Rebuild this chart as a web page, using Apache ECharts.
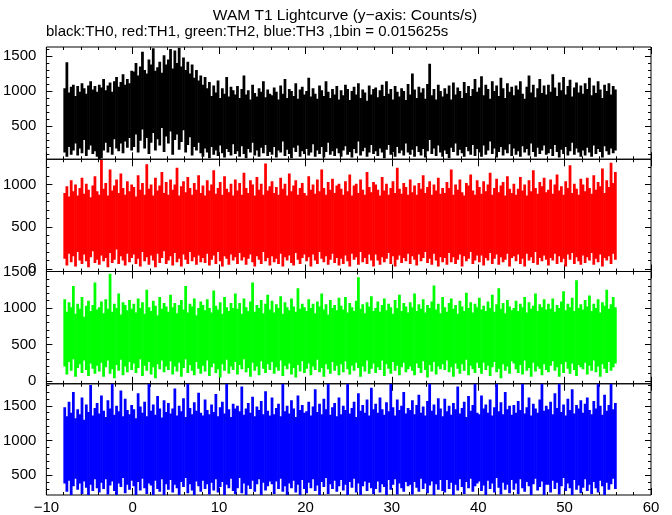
<!DOCTYPE html>
<html><head><meta charset="utf-8">
<script src="https://cdn.jsdelivr.net/npm/echarts@6/dist/echarts.min.js"></script>
<style>html,body{margin:0;padding:0;background:#fff}#c{width:672px;height:515px}</style>
</head><body><div id="c"></div>
<script>
// Lightcurve: bins of 0.25 s starting at t = -8 s; each bin drawn from its low to its high count rate
const T_START = -8, BIN = 0.25;
const xTicks = { min: -10, max: 60, interval: 10 };

const th0Hi = [
1040,1410,980,1060,1090,930,1070,990,1110,1040,960,1080,1140,1020,1070,990,
1090,1050,1170,1010,1080,1120,990,1140,1200,1060,1130,1240,1090,1170,1110,1290,
1280,1400,1220,1350,1560,1300,1250,1450,1380,1610,1290,1340,1420,1260,1510,1380,
1450,1600,1320,1580,1400,1620,1350,1480,1300,1420,1250,1380,1190,1300,1150,1220,
1090,1200,1040,1130,930,1080,980,1150,900,1040,960,1200,920,1060,1010,950,
1070,900,1030,1220,950,1010,880,1090,970,920,1040,990,1140,910,1020,960,
940,1050,990,880,1080,960,1170,900,1030,1000,930,1110,890,1020,1060,950,
1000,1190,920,1040,960,890,1080,1010,930,1140,990,900,1030,950,1070,880,
1010,940,1090,1030,870,1000,1060,950,1110,900,1020,980,860,1080,950,1030,
1050,910,1010,1090,930,1140,960,1030,880,1070,990,920,1040,1000,870,1100,
950,1250,1020,900,1060,980,1040,890,1100,1390,940,1030,880,1090,1000,920,
1040,960,1080,880,1120,950,1050,1000,900,1130,970,1070,930,1030,1170,990,
1050,1210,940,1090,1030,890,1140,1000,1080,930,1190,1040,900,1110,990,1060,
940,1080,1020,1140,960,890,1060,1220,980,1090,910,1040,1170,970,1080,950,
1090,990,1240,1050,930,1120,1010,1200,950,1070,1160,920,1050,1120,980,1080,
960,1110,1030,1190,940,1080,970,1140,1020,900,1090,1000,1110,950,1070,1020];
const th0Lo = [
120,60,200,90,150,250,80,180,110,300,70,160,220,100,140,60,
30,40,150,260,120,200,90,310,180,140,250,110,280,190,330,150,
200,380,120,290,450,180,330,100,260,400,150,310,220,470,130,350,
250,420,90,300,380,160,270,440,120,230,340,80,200,150,260,110,
60,180,120,40,200,90,150,70,220,110,50,170,130,80,240,100,
140,60,210,100,40,170,120,260,80,150,60,190,110,230,70,130,
90,200,50,150,120,280,70,160,100,40,190,130,220,60,140,100,
170,80,120,240,60,150,100,200,50,130,260,90,140,70,180,110,
60,150,210,90,130,50,170,110,280,80,140,190,60,120,230,100,
140,70,180,120,40,160,230,90,130,60,200,110,150,80,250,120,
90,160,60,210,130,80,170,50,140,300,100,180,70,220,120,60,
150,100,40,190,130,250,80,160,110,60,200,140,90,230,70,170,
120,60,220,90,150,280,100,180,50,130,200,80,160,110,240,70,
180,90,140,60,210,120,170,80,250,130,60,190,100,150,220,90,
110,170,70,230,130,50,160,100,200,80,140,260,90,180,120,60,
150,80,190,120,60,220,100,170,130,50,210,140,90,180,110,150];

const th1Hi = [
900,980,860,1050,920,1000,870,960,1080,890,1010,940,850,990,1100,920,
880,1290,950,1020,870,1180,930,990,1060,900,1130,960,880,1040,920,1000,
970,860,1110,940,1020,880,1240,950,1000,870,1080,930,990,1150,900,1030,
880,1060,940,1000,1200,870,980,1040,910,1090,960,880,1020,940,1110,900,
990,870,1050,930,1000,1170,890,960,1030,880,1100,950,910,1010,870,1060,
930,1020,880,1140,960,900,1050,1000,870,1090,940,1010,880,1250,930,980,
1040,900,970,880,1080,950,1010,870,1130,920,990,1050,880,960,1020,900,
870,1100,940,1000,890,1060,920,1180,960,880,1030,940,1070,900,990,1010,
950,880,1040,920,1120,870,990,1010,900,1060,940,880,1150,970,910,1030,
1000,940,870,1090,930,1010,880,960,1040,900,1200,950,890,1020,970,880,
1060,910,990,880,1020,950,1110,900,970,1040,880,1000,930,1080,890,960,
900,1030,960,1180,880,1000,940,1060,910,870,1020,990,1120,930,880,1050,
970,890,1040,920,1000,1140,880,960,1070,910,990,1030,870,1100,950,900,
1010,880,950,1090,930,1000,870,1050,920,1170,960,890,1030,980,1080,910,
940,1060,890,1000,1120,930,980,880,1040,960,1230,900,1010,950,880,1070,
1000,920,1080,960,890,1110,940,1030,980,1190,900,1050,970,1260,1020,1150];
const th1Lo = [
120,40,180,80,150,30,200,100,60,170,90,20,140,210,70,110,
50,160,90,130,20,190,70,110,230,60,150,100,40,180,80,130,
170,60,120,30,200,90,140,50,160,100,20,180,70,130,210,60,
100,150,40,190,80,120,30,170,110,60,200,90,140,50,160,80,
130,70,180,40,110,160,60,200,90,30,150,120,50,170,100,140,
60,190,100,140,50,120,170,80,30,150,110,60,200,90,130,40,
150,80,120,60,180,30,140,100,160,70,40,190,110,60,130,170,
90,140,30,170,100,60,200,120,80,150,50,110,180,70,130,40,
120,60,160,90,30,180,110,140,50,200,80,130,60,170,100,30,
170,100,50,140,80,120,190,60,150,30,110,160,70,130,90,180,
60,150,110,40,170,90,130,200,70,120,50,180,100,30,140,80,
130,50,190,80,140,60,110,170,30,150,90,120,200,60,100,160,
80,160,40,130,100,190,60,120,170,50,140,80,110,180,30,130,
150,90,170,60,120,30,180,100,140,70,200,50,130,90,160,110,
40,130,100,180,60,150,80,120,30,170,110,190,60,140,90,50,
160,70,140,100,190,50,120,80,170,30,130,100,150,60,180,110];

const th2Hi = [
1120,950,1080,1010,1300,920,1060,990,1150,880,1030,1100,960,1040,1350,980,
1010,1090,930,1120,990,1470,950,1060,1000,1200,910,1080,1040,970,1110,990,
1060,940,1130,1000,1080,920,1250,1010,960,1100,1030,900,1150,990,1070,1020,
950,1180,1010,1070,930,1040,1110,980,1300,940,1060,1020,1130,900,1000,1090,
1040,970,1120,1000,940,1240,1030,980,1080,920,1150,1010,960,1070,1000,1200,
990,1070,920,1130,1010,960,1090,1350,950,1040,1000,1110,930,1060,1180,980,
1100,940,1050,1000,1160,920,1080,1010,970,1130,1020,950,1270,990,1060,1010,
960,1120,1000,1060,930,1090,1020,1200,980,1050,910,1110,1000,1040,970,1140,
1030,980,1150,940,1070,1010,960,1100,1420,990,1050,930,1080,1020,1160,960,
1000,1090,950,1040,1130,970,1060,1010,920,1110,1000,1180,960,1070,1020,940,
1080,1010,1200,960,1050,990,1120,940,1040,1000,1090,1310,980,1060,930,1150,
1010,950,1070,1130,990,1040,920,1100,1020,960,1210,1000,1080,940,1060,1010,
1140,980,1030,960,1090,1000,1180,950,1050,1270,990,1070,930,1110,1020,970,
1000,1100,960,1060,1010,1150,940,1080,990,1030,1200,960,1050,1010,1120,980,
1060,990,1130,950,1040,1000,1090,1230,970,1060,1010,1140,960,1380,1000,1050,
980,1110,1020,1170,960,1060,1000,1120,940,1080,1030,1250,990,1050,1150,1010];
const th2Lo = [
200,90,260,140,300,60,180,230,110,280,150,70,240,170,100,210,
130,250,60,190,280,100,160,40,220,140,290,80,200,120,260,150,
240,110,180,300,70,210,140,260,90,190,40,230,160,280,120,200,
150,270,90,200,130,250,60,180,300,110,220,140,80,260,170,100,
210,130,280,70,190,240,110,160,50,230,140,290,100,200,150,260,
90,220,160,300,120,180,60,250,140,200,80,270,170,110,230,150,
260,100,190,140,280,70,210,160,240,90,180,50,220,130,270,110,
170,240,80,200,150,290,120,180,60,230,160,100,260,140,210,80,
230,120,270,160,90,210,140,250,180,60,200,130,280,100,170,240,
110,190,150,280,70,230,170,100,260,140,210,80,190,250,120,160,
200,140,80,240,180,110,270,150,50,220,130,260,90,200,160,230,
150,280,120,190,60,240,170,100,230,140,290,80,210,160,110,250,
180,100,250,150,210,70,190,260,120,170,40,230,140,200,100,270,
240,160,110,220,90,280,140,180,60,250,130,200,170,80,230,150,
120,210,270,140,190,60,230,110,260,170,100,240,150,70,220,190,
160,250,90,210,140,280,120,200,60,230,170,110,260,140,190,240];

const th3Hi = [
1480,1350,1560,1400,1700,1320,1450,1380,1620,1300,1520,1410,1800,1360,1470,1540,
1390,1650,1430,1340,1580,1460,1820,1370,1500,1420,1720,1350,1600,1440,1380,1510,
1450,1320,1680,1490,1400,1560,1350,1820,1430,1520,1370,1640,1460,1330,1580,1410,
1540,1390,1460,1750,1360,1500,1420,1610,1340,1820,1470,1380,1550,1430,1690,1400,
1360,1590,1440,1380,1520,1410,1670,1350,1480,1560,1390,1820,1450,1340,1530,1460,
1500,1420,1780,1370,1460,1540,1400,1630,1350,1490,1440,1570,1380,1710,1430,1360,
1620,1380,1470,1530,1350,1820,1420,1500,1390,1580,1460,1340,1650,1440,1510,1400,
1420,1560,1360,1490,1740,1410,1530,1380,1600,1450,1820,1370,1480,1540,1350,1620,
1380,1500,1440,1820,1390,1470,1560,1340,1680,1430,1510,1400,1590,1360,1760,1450,
1530,1400,1620,1450,1370,1550,1420,1820,1480,1360,1590,1440,1500,1700,1390,1470,
1440,1580,1380,1510,1660,1400,1490,1360,1570,1820,1430,1520,1370,1610,1460,1350,
1600,1420,1500,1370,1540,1450,1780,1390,1470,1560,1340,1640,1430,1510,1820,1400,
1380,1650,1460,1520,1400,1590,1360,1480,1820,1420,1550,1380,1700,1450,1500,1370,
1510,1400,1570,1440,1820,1390,1480,1620,1360,1530,1460,1400,1590,1820,1430,1500,
1450,1560,1380,1680,1470,1820,1410,1520,1360,1600,1440,1740,1390,1510,1460,1580,
1400,1530,1620,1440,1380,1570,1460,1820,1500,1370,1660,1430,1510,1820,1450,1540];
const th3Lo = [
380,260,420,200,340,450,290,380,230,410,320,180,360,270,440,310,
250,390,300,440,220,350,410,270,200,380,330,460,240,360,290,420,
340,200,400,280,450,310,230,380,350,190,420,300,260,440,210,370,
290,430,250,360,310,210,400,330,460,240,370,280,200,410,340,260,
420,300,370,220,390,280,440,250,330,400,190,360,310,450,270,230,
310,460,240,380,200,350,300,420,260,370,440,210,390,280,340,410,
370,230,410,300,450,260,340,200,380,310,420,250,360,190,430,300,
240,390,310,440,270,350,210,400,330,460,230,370,300,420,260,340,
430,280,360,210,400,320,450,250,380,200,340,410,270,390,310,230,
300,410,250,370,330,190,430,290,360,440,220,380,310,260,400,340,
360,220,400,320,260,450,300,380,240,350,410,200,370,290,430,270,
250,430,300,390,210,360,280,440,330,230,400,310,450,260,340,380,
410,270,350,200,420,300,380,250,460,320,220,390,290,360,240,430,
290,380,230,440,310,260,400,340,210,370,450,280,330,410,200,360,
360,250,420,300,390,220,340,460,270,380,310,200,430,290,350,240,
320,440,270,360,230,400,310,250,420,340,210,390,290,370,450,300];

// y ranges and ticks of each panel
const yRanges = [[25, 1629], [-30, 1300], [-37, 1500], [214, 1818]];
const yMajorTicks = [[500, 1000, 1500], [0, 500, 1000], [0, 500, 1000, 1500], [500, 1000, 1500]];
const yMinorTicks = [
  [100,200,300,400,600,700,800,900,1100,1200,1300,1400,1600],
  [100,200,300,400,600,700,800,900,1100,1200],
  [100,200,300,400,600,700,800,900,1100,1200,1300,1400],
  [300,400,600,700,800,900,1100,1200,1300,1400,1600,1700,1800]
];
const colors = ['#000000', '#ff0000', '#00ff00', '#0000ff'];
const hiSeries = [th0Hi, th1Hi, th2Hi, th3Hi];
const loSeries = [th0Lo, th1Lo, th2Lo, th3Lo];
const titleText = 'WAM T1 Lightcurve (y\u2212axis: Counts/s)';
const subtitleText = 'black:TH0, red:TH1, green:TH2, blue:TH3 ,1bin = 0.015625s';

const FONT = '"Liberation Sans", Arial, Helvetica, sans-serif';
const FS = 15;
const GRID_LEFT = 45, GRID_RIGHT = 21, GRID_TOP = 47, PANEL_H = 112.25;
const MAJ = 7, MIN = 3;
const tickStyle = { color: '#000', width: 1 };

const grids = [], xAxes = [], yAxes = [], series = [];
for (let i = 0; i < 4; i++) {
  const last = i === 3;
  grids.push({ left: GRID_LEFT, right: GRID_RIGHT, top: GRID_TOP + i * PANEL_H, height: PANEL_H,
    show: true, borderColor: '#000', borderWidth: 1, backgroundColor: 'transparent', containLabel: false });
  ['bottom', 'top'].forEach(pos => {
    xAxes.push({ type: 'value', gridIndex: i, position: pos, min: xTicks.min, max: xTicks.max, interval: xTicks.interval,
      axisLine: { show: false, onZero: false }, splitLine: { show: false },
      axisTick: { show: true, inside: true, length: MAJ, lineStyle: tickStyle },
      minorTick: { show: true, splitNumber: 5, length: MIN, lineStyle: tickStyle },
      minorSplitLine: { show: false },
      axisLabel: { show: last && pos === 'bottom', margin: 5, color: '#000', fontSize: FS, fontFamily: FONT,
        formatter: v => String(v).replace('-', '\u2212') } });
  });
  ['left', 'right'].forEach(pos => {
    yAxes.push({ type: 'value', gridIndex: i, position: pos, min: yRanges[i][0], max: yRanges[i][1],
      axisLine: { show: false, onZero: false }, splitLine: { show: false },
      axisTick: { show: true, inside: true, length: MAJ - 1, lineStyle: tickStyle, customValues: yMajorTicks[i] },
      axisLabel: { show: pos === 'left', margin: 10, color: '#000', fontSize: FS, fontFamily: FONT,
        customValues: yMajorTicks[i], formatter: v => String(v) } });
    yAxes.push({ type: 'value', gridIndex: i, position: pos, min: yRanges[i][0], max: yRanges[i][1],
      axisLine: { show: false, onZero: false }, splitLine: { show: false },
      axisTick: { show: true, inside: true, length: MIN, lineStyle: tickStyle, customValues: yMinorTicks[i] },
      axisLabel: { show: false } });
  });
  const color = colors[i];
  const data = hiSeries[i].map((h, k) => [T_START + (k + 0.5) * BIN, loSeries[i][k], h]);
  series.push({ type: 'custom', name: 'TH' + i, xAxisIndex: 2 * i, yAxisIndex: 4 * i, clip: true, silent: true,
    encode: { x: 0, y: [1, 2] }, data,
    renderItem: (params, api) => {
      const t = api.value(0), lo = api.value(1), hi = api.value(2);
      const a = api.coord([t - BIN / 2, hi]);
      const b = api.coord([t + BIN / 2, lo]);
      return { type: 'rect', shape: { x: a[0] - 0.3, y: a[1], width: b[0] - a[0] + 0.6, height: b[1] - a[1] },
        style: { fill: color } };
    } });
}

const chart = echarts.init(document.getElementById('c'));
chart.setOption({
  animation: false,
  backgroundColor: '#fff',
  grid: grids, xAxis: xAxes, yAxis: yAxes, series,
  graphic: [
    { type: 'text', x: 345, y: 16, style: { text: titleText, fill: '#000', fontSize: 15.5, fontFamily: FONT, align: 'center', verticalAlign: 'middle' } },
    { type: 'text', x: 46, y: 32, style: { text: subtitleText, fill: '#000', fontSize: FS, fontFamily: FONT, align: 'left', verticalAlign: 'middle' } }
  ]
});
</script></body></html>
